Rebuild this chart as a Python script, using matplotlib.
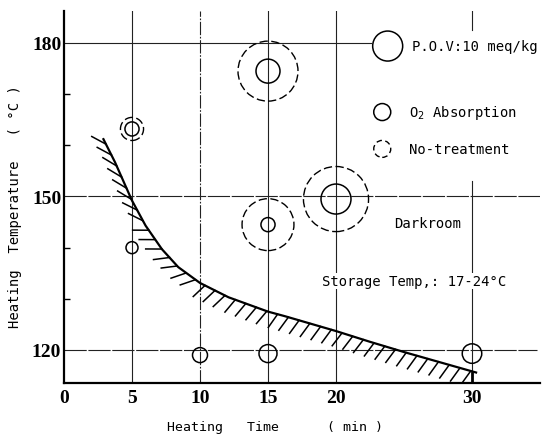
import matplotlib.pyplot as plt
from matplotlib import patheffects

# 边界曲线（斜线阴影一侧）
curve_time = [2.9, 3.75, 5.0, 6.0, 7.2, 8.4, 10.0, 12.1, 15.0, 16.25, 20.0, 22.5, 25.0, 30.3]
curve_temp = [161.2, 156.7, 149.2, 144.3, 139.7, 136.2, 133.1, 130.3, 127.5, 126.6, 123.7, 121.6, 119.6, 115.6]

# O2 Absorption（实线圆），P.O.V (meq/kg) 决定圆的大小
o2_time = [5, 5, 10, 15, 15, 15, 20, 30]
o2_temp = [163.2, 140.0, 119.0, 119.3, 144.5, 174.5, 149.5, 119.3]
o2_pov = [4.7, 4.0, 5.0, 6.0, 4.7, 8.0, 10.0, 6.5]

# No-treatment（虚线圆）
nt_time = [5, 15, 15, 20]
nt_temp = [163.2, 174.5, 144.5, 149.5]
nt_pov = [7.7, 20.0, 17.3, 21.7]

x_ticks = [0, 5, 10, 15, 20, 30]
y_ticks = [120, 150, 180]
y_minor = [130, 140, 160, 170]


def pov_size(pov):
    # 半径 1.5 px / (meq/kg)，dpi=100 -> 点
    return [(2 * 1.5 * p * 0.72) ** 2 for p in pov]


fig = plt.figure(figsize=(5.47, 4.35), dpi=100)
ax = fig.add_axes([64 / 547, 51 / 435, 476 / 547, 372 / 435])
ax.set_xlim(0, 35.0)
ax.set_ylim(113.55, 186.25)

# 网格线
grid_kw = dict(color='#222222', lw=0.8, zorder=1)
for x in [5, 15, 20]:
    ax.axvline(x, **grid_kw)
ax.axvline(10, ls=(0, (12, 1.5, 1.5, 1.5)), **grid_kw)
ax.plot([30, 30], [113.55, 153], **grid_kw)
ax.plot([30, 30], [182.5, 186.25], **grid_kw)
ax.plot([30, 30], [113.55, 115.6], color='black', lw=2, zorder=1)
ax.axhline(150, ls=(0, (20, 1.5)), **grid_kw)
ax.axhline(120, ls=(0, (20, 1.5)), xmax=34.8 / 35, **grid_kw)
ax.plot([0, 22.6], [180, 180], **grid_kw)

# 阴影曲线：陡段、中段、缓段的斜线角度不同
ax.plot(curve_time, curve_temp, color='black', lw=1.6, zorder=3)
segments = [(0, 4, -145), (3, 7, -125), (6, len(curve_time), -110)]
for i0, i1, ang in segments:
    ax.plot(curve_time[i0:i1], curve_temp[i0:i1], color='black', lw=1.6, zorder=3,
            path_effects=[patheffects.TickedStroke(angle=ang, spacing=8,
                                                   length=1.45, linewidth=1.1)])

# 数据圆
ax.scatter(nt_time, nt_temp, s=pov_size(nt_pov), facecolors='none',
           edgecolors='black', linewidths=1.0, linestyle=(0, (6, 2.5)), zorder=4)
ax.scatter(o2_time, o2_temp, s=pov_size(o2_pov), facecolors='none',
           edgecolors='black', linewidths=1.1, zorder=5)

# 图例
mono = 'DejaVu Sans Mono'
ax.scatter([23.8], [179.4], s=pov_size([10]), facecolors='none',
           edgecolors='black', linewidths=1.1, zorder=5)
ax.text(25.6, 179.4, 'P.O.V:10 meq/kg', family=mono, fontsize=10, va='center')
ax.scatter([23.4], [166.5], s=(2 * 8.5 * 0.72) ** 2, facecolors='none',
           edgecolors='black', linewidths=1.1, zorder=5)
ax.text(25.4, 166.5, 'O$_2$ Absorption', family=mono, fontsize=10, va='center')
ax.scatter([23.4], [159.3], s=(2 * 8.5 * 0.72) ** 2, facecolors='none',
           edgecolors='black', linewidths=1.0, linestyle=(0, (4, 2.5)), zorder=5)
ax.text(25.4, 159.3, 'No-treatment', family=mono, fontsize=10, va='center')

ax.text(24.3, 144.8, 'Darkroom', family=mono, fontsize=10, va='center')
ax.text(19.0, 133.5, 'Storage Temp,: 17-24°C', family=mono, fontsize=10, va='center',
        bbox=dict(facecolor='white', edgecolor='none', pad=1), zorder=6)

# 坐标轴
for side in ['top', 'right']:
    ax.spines[side].set_visible(False)
for side in ['left', 'bottom']:
    ax.spines[side].set_linewidth(1.6)

ax.set_xticks(x_ticks)
ax.set_xticklabels([str(v) for v in x_ticks], family='Liberation Serif',
                   fontweight='bold', fontsize=14)
ax.set_yticks(y_ticks)
ax.set_yticklabels([str(v) for v in y_ticks], family='Liberation Serif',
                   fontweight='bold', fontsize=14)
ax.set_yticks(y_minor, minor=True)
ax.tick_params(axis='both', which='major', length=0)
ax.tick_params(axis='x', which='major', pad=4)
ax.tick_params(axis='y', which='major', pad=2)
ax.tick_params(axis='y', which='minor', direction='in', length=4.5, width=1)

fig.text(275 / 547, 1 - 428 / 435, 'Heating   Time      ( min )', family=mono,
         fontsize=9.5, ha='center', va='center')
fig.text(15 / 547, 1 - 207 / 435, 'Heating  Temperature   ( °C )', family=mono,
         fontsize=10, rotation=90, ha='center', va='center')

fig.savefig('out.png', dpi=100)
plt.close(fig)
